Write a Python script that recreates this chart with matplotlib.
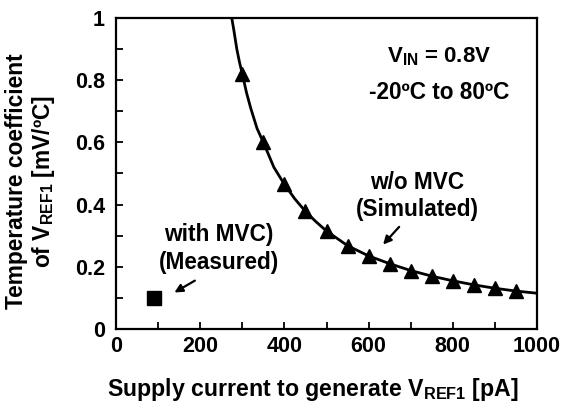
import matplotlib
matplotlib.use("Agg")
import matplotlib.pyplot as plt

plt.rcParams['font.family'] = ['Liberation Sans', 'DejaVu Sans']
plt.rcParams['font.weight'] = 'bold'
plt.rcParams['mathtext.fontset'] = 'custom'
plt.rcParams['mathtext.rm'] = 'Liberation Sans:bold'
plt.rcParams['mathtext.bf'] = 'Liberation Sans:bold'
plt.rcParams['mathtext.it'] = 'Liberation Sans:bold'

# simulated (w/o MVC) markers
sim_x = [300, 350, 400, 450, 500, 550, 600, 650, 700, 750, 800, 850, 900, 950]
sim_y = [0.82, 0.60, 0.465, 0.378, 0.315, 0.268, 0.235, 0.210, 0.188, 0.170, 0.155, 0.142, 0.131, 0.122]

# simulated curve
curve_x = [275, 280, 287, 293, 300, 310, 320, 335, 350, 375, 400, 425, 450, 475, 500, 550, 600, 650,
           700, 750, 800, 850, 900, 950, 1000]
curve_y = [1.0, 0.96, 0.90, 0.86, 0.82, 0.76, 0.71, 0.645, 0.60, 0.52, 0.465, 0.418, 0.378, 0.345,
           0.315, 0.268, 0.235, 0.210, 0.188, 0.170, 0.155, 0.142, 0.131, 0.122, 0.115]

# measured (with MVC)
meas_x = [90]
meas_y = [0.10]

x_ticks = [0, 200, 400, 600, 800, 1000]
y_ticks = [0, 0.2, 0.4, 0.6, 0.8, 1]
y_tick_labels = ['0', '0.2', '0.4', '0.6', '0.8', '1']

fig = plt.figure(figsize=(5.62, 4.07), dpi=100)
ax = fig.add_axes([116/562, 1-329/407, (537-116)/562, (329-18)/407])

ax.plot(curve_x, curve_y, color='black', lw=2.0, zorder=2)
ax.plot(sim_x, sim_y, linestyle='none', marker='^', color='black', markersize=10, zorder=3)
ax.plot(meas_x, meas_y, linestyle='none', marker='s', color='black', markersize=9.5, zorder=3)

ax.set_xlim(0, 1000)
ax.set_ylim(0, 1)
ax.set_xticks(x_ticks)
ax.set_xticks(range(100, 1000, 200), minor=True)
ax.set_yticks(y_ticks)
ax.set_yticklabels(y_tick_labels)
ax.set_yticks([0.1, 0.3, 0.5, 0.7, 0.9], minor=True)
ax.tick_params(axis='both', which='both', direction='in', width=1.3, labelsize=15.5, pad=8)
ax.tick_params(axis='both', which='both', length=5)
ax.tick_params(axis='x', pad=5)
for s in ax.spines.values():
    s.set_linewidth(1.6)

for lab in ax.get_xticklabels() + ax.get_yticklabels():
    lab.set_fontweight('bold')

ax.set_xlabel(r'Supply current to generate V$_{\rm REF1}$ [pA]', fontsize=16.7, fontweight='bold')
ax.xaxis.set_label_coords(0.468, -0.152)
ax.set_ylabel('Temperature coefficient\n' + r'of V$_{\rm REF1}$ [mV/ºC]', fontsize=16.4,
              fontweight='bold', linespacing=1.12)
ax.yaxis.set_label_coords(-0.140, 0.476)

fs = 16.3
ax.text(767, 0.875, r'V$_{\rm IN}$ = 0.8V', ha='center', va='center', fontsize=16, fontweight='bold')
ax.text(767, 0.762, '-20ºC to 80ºC', ha='center', va='center', fontsize=16.3, fontweight='bold')
ax.text(715, 0.47, 'w/o MVC', ha='center', va='center', fontsize=fs, fontweight='bold')
ax.text(715, 0.384, '(Simulated)', ha='center', va='center', fontsize=fs, fontweight='bold')
ax.text(245, 0.303, 'with MVC)', ha='center', va='center', fontsize=fs, fontweight='bold')
ax.text(245, 0.213, '(Measured)', ha='center', va='center', fontsize=fs, fontweight='bold')

ax.annotate('', xy=(630, 0.265), xytext=(677, 0.335),
            arrowprops=dict(arrowstyle='-|>', color='black', lw=1.6, mutation_scale=12))
ax.annotate('', xy=(133, 0.113), xytext=(193, 0.16),
            arrowprops=dict(arrowstyle='-|>', color='black', lw=1.6, mutation_scale=12))

fig.savefig('out.png', dpi=100)
